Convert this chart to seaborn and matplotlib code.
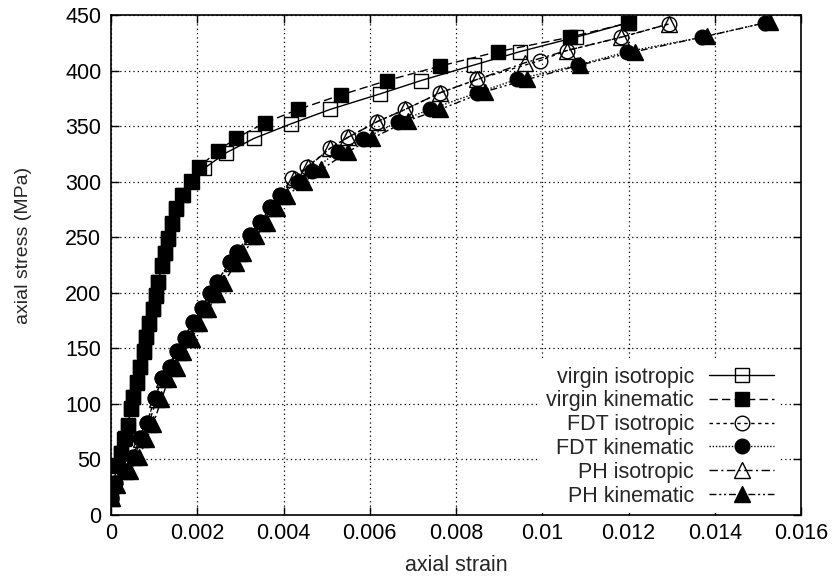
import numpy as np
import matplotlib
matplotlib.use("Agg")
import matplotlib.pyplot as plt
import seaborn as sns

# Data (axial strain, axial stress in MPa)

vi_strain = [0.00001, 0.00005, 0.00015, 0.00023, 0.00031, 0.00039, 0.00046, 0.00051, 0.0006, 0.00067,
             0.00076, 0.00081, 0.00088, 0.00097, 0.00104, 0.00109, 0.00118, 0.00125, 0.00132, 0.00141,
             0.00151, 0.00166, 0.00188, 0.00216, 0.00267, 0.00332, 0.00417, 0.00508, 0.00624, 0.00719,
             0.00842, 0.00948, 0.01078, 0.01199]
vi_stress = [15, 29, 44, 56, 68, 80, 95, 106, 119, 133, 147, 160, 172, 185, 197, 210, 224, 236, 248, 262,
             275, 288, 300, 312, 326, 339, 352, 365, 379, 391, 405, 417, 430, 443]

vk_strain = [0.00001, 0.00005, 0.00016, 0.00023, 0.00032, 0.00039, 0.00046, 0.00051, 0.0006, 0.00067,
             0.00077, 0.00081, 0.00088, 0.00097, 0.00104, 0.00109, 0.00118, 0.00125, 0.00132, 0.00141,
             0.00151, 0.00165, 0.00186, 0.00204, 0.00248, 0.0029, 0.00357, 0.00434, 0.00533, 0.0064,
             0.00763, 0.00897, 0.01064, 0.01201]
vk_stress = [15, 29, 45, 56, 69, 81, 96, 106, 120, 133, 148, 160, 173, 185, 198, 210, 225, 236, 249, 263,
             276, 288, 301, 313, 328, 339, 353, 365, 378, 391, 404, 417, 430, 443]

fi_strain = [0.00001, 0.0001, 0.0003, 0.0005, 0.00067, 0.00083, 0.00102, 0.00118, 0.00137, 0.00153,
             0.00172, 0.0019, 0.00211, 0.0023, 0.00246, 0.00276, 0.00292, 0.00322, 0.00346, 0.00369,
             0.00392, 0.0042, 0.00454, 0.00508, 0.0055, 0.00617, 0.00682, 0.00763, 0.00849, 0.00995,
             0.01057, 0.01183, 0.01294]
fi_stress = [15, 29, 40, 52, 69, 83, 105, 123, 133, 148, 159, 174, 186, 200, 210, 228, 237, 252, 264, 277,
             288, 303, 313, 330, 340, 354, 365, 380, 392, 409, 418, 430, 442]

fk_strain = [0.00001, 0.0001, 0.0003, 0.0005, 0.00067, 0.00083, 0.00102, 0.00118, 0.00137, 0.00153,
             0.00172, 0.0019, 0.00211, 0.0023, 0.00246, 0.00276, 0.00292, 0.00322, 0.00346, 0.00369,
             0.00392, 0.00434, 0.00466, 0.00526, 0.00584, 0.00666, 0.0074, 0.00849, 0.00941, 0.01083,
             0.01197, 0.0137, 0.01517]
fk_stress = [15, 29, 40, 52, 69, 83, 105, 123, 133, 148, 159, 174, 186, 200, 210, 228, 237, 252, 264, 277,
             288, 300, 310, 327, 338, 354, 365, 380, 392, 405, 417, 430, 443]

pi_strain = [0.00001, 0.00012, 0.00033, 0.00053, 0.0007, 0.00087, 0.00106, 0.00122, 0.0014, 0.00157,
             0.00176, 0.00194, 0.00215, 0.00234, 0.0025, 0.0028, 0.00296, 0.00326, 0.0035, 0.00373,
             0.00396, 0.00424, 0.00456, 0.00508, 0.0055, 0.00617, 0.00682, 0.00763, 0.00849, 0.0096,
             0.01057, 0.01183, 0.01294]
pi_stress = [15, 28, 40, 52, 68, 82, 104, 122, 132, 147, 158, 173, 185, 199, 209, 227, 236, 251, 263, 276,
             287, 302, 313, 330, 340, 354, 365, 380, 392, 407, 418, 430, 442]

pk_strain = [0.00002, 0.00015, 0.00045, 0.00065, 0.00082, 0.00098, 0.00117, 0.00133, 0.00152, 0.00168,
             0.00187, 0.00205, 0.00226, 0.00245, 0.00261, 0.00291, 0.00307, 0.00337, 0.00361, 0.00384,
             0.00407, 0.00448, 0.00488, 0.0055, 0.00605, 0.00689, 0.00763, 0.00867, 0.00965, 0.01088,
             0.01215, 0.01382, 0.01528]
pk_stress = [15, 27, 40, 52, 68, 82, 104, 122, 132, 147, 158, 173, 185, 199, 209, 227, 236, 251, 263, 276,
             287, 300, 311, 327, 339, 355, 365, 381, 392, 405, 417, 431, 444]

x_ticks = [0, 0.002, 0.004, 0.006, 0.008, 0.01, 0.012, 0.014, 0.016]
x_labels = ["0", "0.002", "0.004", "0.006", "0.008", "0.01", "0.012", "0.014", "0.016"]
y_ticks = list(range(0, 451, 50))

# Style

sns.set_theme(style="ticks")
plt.rcParams["font.family"] = ["Liberation Sans", "DejaVu Sans"]
plt.rcParams["font.size"] = 15.5

series = [
    ("virgin isotropic", vi_strain, vi_stress, "s", "none", "-", 10),
    ("virgin kinematic", vk_strain, vk_stress, "s", "black", (0, (6, 3)), 10),
    ("FDT isotropic", fi_strain, fi_stress, "o", "none", (0, (2.5, 2.5)), 10.5),
    ("FDT kinematic", fk_strain, fk_stress, "o", "black", (0, (1, 1.3)), 10.5),
    ("PH isotropic", pi_strain, pi_stress, "^", "none", (0, (6, 2.5, 1.5, 2.5)), 11),
    ("PH kinematic", pk_strain, pk_stress, "^", "black", (0, (5, 2, 1.5, 2, 1.5, 2)), 11),
]

fig = plt.figure(figsize=(8.32, 5.84), dpi=100)
ax = fig.add_axes([111 / 832, 1 - 515 / 584, 690 / 832, 500 / 584])

for label, xs, ys, mk, fc, ls, ms in series:
    sns.lineplot(x=xs, y=ys, ax=ax, estimator=None, sort=False, color="black",
                 linestyle=ls, linewidth=1.0, marker=mk, markersize=ms,
                 markerfacecolor=fc, markeredgecolor="black", markeredgewidth=1.0,
                 label=label)

ax.set_xlim(0, 0.016)
ax.set_ylim(0, 450)
ax.set_xticks(x_ticks)
ax.set_xticklabels(x_labels)
ax.set_yticks(y_ticks)
ax.tick_params(direction="in", length=6, width=1, top=True, right=True,
               labelsize=15.5, colors="black", pad=7)
ax.tick_params(axis="x", pad=6)
ax.grid(True, color="black", linestyle=(0, (1, 2.5)), linewidth=0.9)
for sp in ax.spines.values():
    sp.set_color("black")
    sp.set_linewidth(1.2)

ax.set_xlabel("axial strain", fontsize=15.5, labelpad=8)
ax.set_ylabel("axial stress (MPa)", fontsize=14)
ax.yaxis.set_label_coords(-0.1145, 0.54)

leg = ax.legend(loc="lower right", bbox_to_anchor=(0.97, 0.004), markerfirst=False,
                frameon=True, facecolor="white", edgecolor="none", framealpha=1,
                fancybox=False, fontsize=15.5, handlelength=3.0, handletextpad=0.7,
                labelspacing=0.13, borderpad=0.3, borderaxespad=0)
leg.set_zorder(5)

fig.savefig("out.png", dpi=100)
